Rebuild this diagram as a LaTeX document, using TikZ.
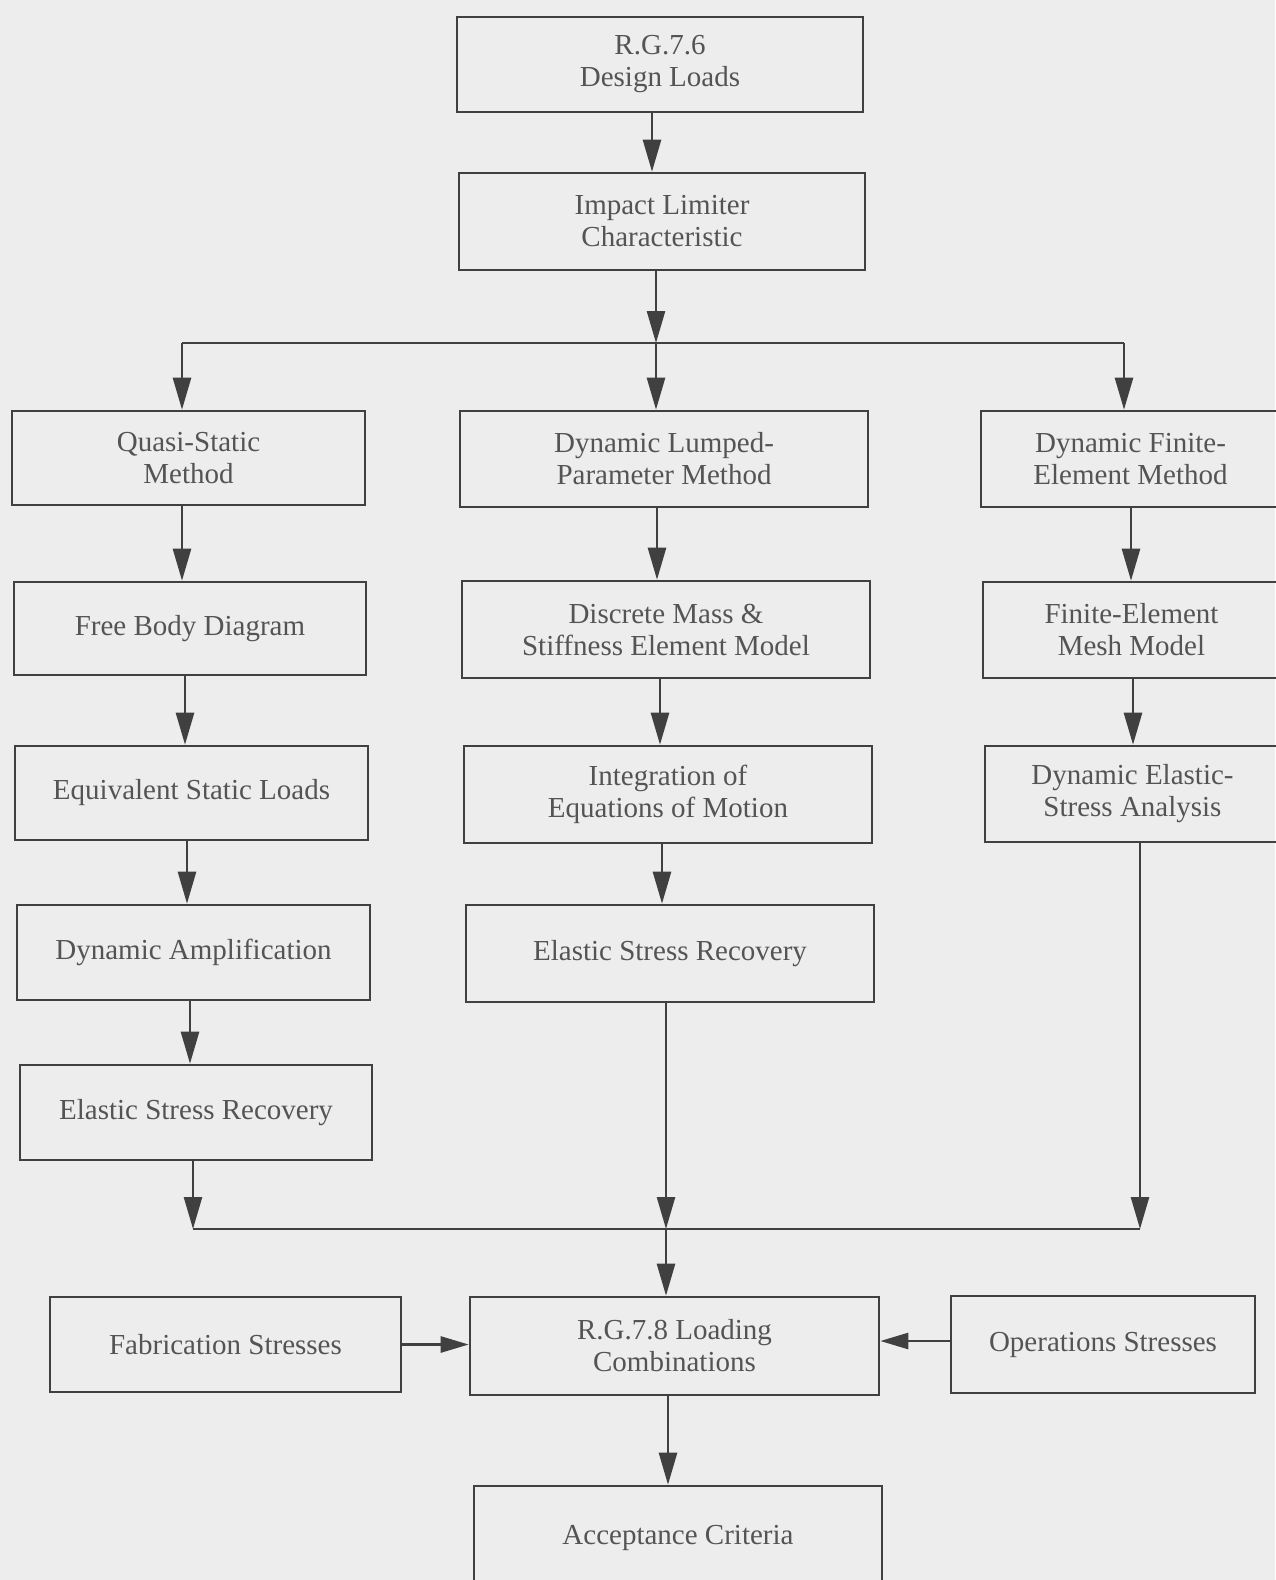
\documentclass[tikz,border=0pt]{standalone}
\usepackage{fontspec}
\setmainfont{Liberation Serif}
\usetikzlibrary{arrows.meta}
\definecolor{bg}{rgb}{0.93,0.93,0.93}
\definecolor{ink}{rgb}{0.25,0.25,0.25}
\definecolor{txt}{rgb}{0.33,0.33,0.33}
\begin{document}
\begin{tikzpicture}[x=1pt,y=-1pt,
  box/.style={draw=ink, line width=2.6pt, rectangle, inner sep=0pt, align=center,
    text=txt, font=\fontsize{29}{32}\selectfont},
  conn/.style={draw=ink, line width=2.6pt},
  arr/.style={conn, -{Triangle[length=32pt,width=18pt]}},
  harr/.style={conn, -{Triangle[length=28pt,width=16pt]}}]
\fill[bg] (0,0) rectangle (1275,1580);
\useasboundingbox (0,0) rectangle (1275,1580);

% boxes
\node[box, minimum width=406, minimum height=95] (dl) at (660,64.5) {R.G.7.6\\Design Loads};
\node[box, minimum width=406, minimum height=97] (il) at (662,221.5) {Impact Limiter\\Characteristic};
\node[box, minimum width=353, minimum height=94] (qs) at (188.5,458) {Quasi-Static\\Method};
\node[box, minimum width=408, minimum height=96] (dlp) at (664,459) {Dynamic Lumped-\\Parameter Method};
\node[box, minimum width=299, minimum height=96] (dfe) at (1130.5,459) {Dynamic Finite-\\Element Method};
\node[box, minimum width=352, minimum height=93] (fbd) at (190,628.5) {Free Body Diagram};
\node[box, minimum width=408, minimum height=97] (dm) at (666,629.5) {Discrete Mass \&\\Stiffness Element Model};
\node[box, minimum width=297, minimum height=96] (fem) at (1131.5,630) {Finite-Element\\Mesh Model};
\node[box, minimum width=353, minimum height=94] (esl) at (191.5,793) {Equivalent Static Loads};
\node[box, minimum width=408, minimum height=97] (ieq) at (668,794.5) {Integration of\\Equations of Motion};
\node[box, minimum width=295, minimum height=96] (des) at (1132.5,794) {Dynamic Elastic-\\Stress Analysis};
\node[box, minimum width=353, minimum height=95] (da) at (193.5,952.5) {Dynamic Amplification};
\node[box, minimum width=408, minimum height=97] (esrm) at (670,953.5) {Elastic Stress Recovery};
\node[box, minimum width=352, minimum height=95] (esrl) at (196,1112.5) {Elastic Stress Recovery};
\node[box, minimum width=351, minimum height=95] (fab) at (225.5,1344.5) {Fabrication Stresses};
\node[box, minimum width=409, minimum height=98] (rg) at (674.5,1346) {R.G.7.8 Loading\\Combinations};
\node[box, minimum width=304, minimum height=97] (ops) at (1103,1344.5) {Operations Stresses};
\node[box, minimum width=408, minimum height=104] (acc) at (678,1538) {Acceptance Criteria};

% column x positions
\coordinate (xa) at (652,0);
\coordinate (l1) at (182,0);
\coordinate (l2) at (185,0);
\coordinate (l3) at (187,0);
\coordinate (l4) at (190,0);
\coordinate (m1) at (657,0);
\coordinate (m2) at (660,0);
\coordinate (m3) at (662,0);
\coordinate (m5) at (668,0);
\coordinate (r1) at (1131,0);
\coordinate (r2) at (1133,0);

% branch
\coordinate (bl) at (182,343);
\coordinate (bm) at (656,343);
\coordinate (br) at (1124,343);
% merge
\coordinate (ml) at (193,1229);
\coordinate (mm) at (666,1229);
\coordinate (mr) at (1140,1229);

\draw[arr] (dl.south -| xa) -- (il.north -| xa);
\draw[arr] (il.south -| bm) -- (bm);
\draw[conn] (bl) -- (br);
\draw[arr] (bl) -- (qs.north -| bl);
\draw[arr] (bm) -- (dlp.north -| bm);
\draw[arr] (br) -- (dfe.north -| br);

\draw[arr] (qs.south -| l1) -- (fbd.north -| l1);
\draw[arr] (fbd.south -| l2) -- (esl.north -| l2);
\draw[arr] (esl.south -| l3) -- (da.north -| l3);
\draw[arr] (da.south -| l4) -- (esrl.north -| l4);

\draw[arr] (dlp.south -| m1) -- (dm.north -| m1);
\draw[arr] (dm.south -| m2) -- (ieq.north -| m2);
\draw[arr] (ieq.south -| m3) -- (esrm.north -| m3);

\draw[arr] (dfe.south -| r1) -- (fem.north -| r1);
\draw[arr] (fem.south -| r2) -- (des.north -| r2);

\draw[conn] (ml) -- (mr);
\draw[arr] (esrl.south -| ml) -- (ml);
\draw[arr] (esrm.south -| mm) -- (mm);
\draw[arr] (des.south -| mr) -- (mr);
\draw[arr] (mm) -- (rg.north -| mm);
\draw[arr] (rg.south -| m5) -- (acc.north -| m5);

\draw[harr] (fab.east) -- (fab.east -| rg.west);
\draw[harr] (ops.west |- 0,1341) -- (rg.east |- 0,1341);
\end{tikzpicture}
\end{document}
